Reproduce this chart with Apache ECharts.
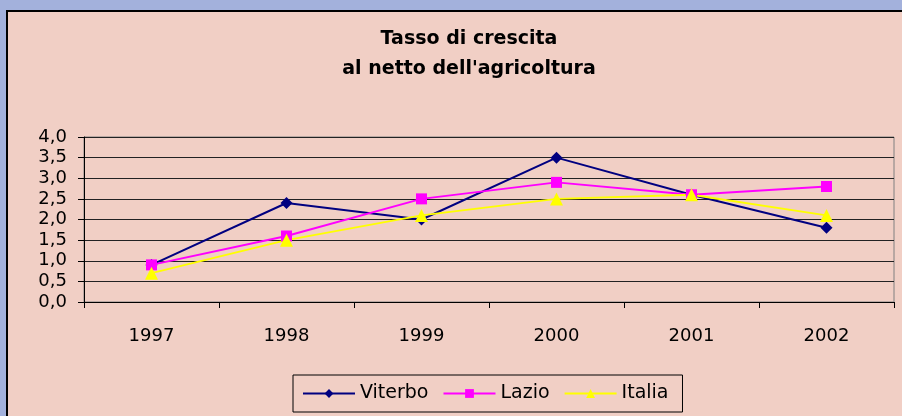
<!DOCTYPE html>
<html><head><meta charset="utf-8">
<script src="https://cdn.jsdelivr.net/npm/echarts@6/dist/echarts.min.js"></script>
<style>
html,body{margin:0;padding:0;width:902px;height:416px;overflow:hidden;background:#a3b1dc;}
#frame{position:absolute;left:6px;top:10px;width:1000px;height:500px;border:2px solid #000;background:#f1cfc5;box-sizing:border-box;}
#chart{position:absolute;left:0;top:0;width:902px;height:416px;}
</style></head>
<body>
<div id="frame"></div>
<div id="chart"></div>
<script>
const categories = ['1997','1998','1999','2000','2001','2002'];
const viterbo = [0.9, 2.4, 2.0, 3.5, 2.6, 1.8];
const lazio   = [0.9, 1.6, 2.5, 2.9, 2.6, 2.8];
const italia  = [0.7, 1.5, 2.1, 2.5, 2.6, 2.1];

const chart = echarts.init(document.getElementById('chart'), null, {renderer:'canvas'});
const font = '"DejaVu Sans", Verdana, sans-serif';
chart.setOption({
  animation:false,
  backgroundColor:'transparent',
  title:{
    text:'Tasso di crescita\nal netto dell\'agricoltura',
    left:464, top:19, textAlign:'center',
    textStyle:{fontFamily:font, fontSize:19, fontWeight:'bold', color:'#000', lineHeight:30}
  },
  legend:{
    left:293, top:375,
    orient:'horizontal',
    padding:[9,14,9,9],
    borderColor:'#000', borderWidth:1,
    itemWidth:52, itemHeight:11, itemGap:14,
    textStyle:{fontFamily:font, fontSize:19, color:'#000'},
    data:['Viterbo','Lazio','Italia']
  },
  grid:{left:84, top:137, width:810, height:165, show:true, borderColor:'#808080', borderWidth:1, backgroundColor:'transparent'},
  xAxis:{
    type:'category', data:categories, boundaryGap:true,
    axisLine:{lineStyle:{color:'#000', width:1}},
    axisTick:{show:true, length:6, inside:false, alignWithLabel:false, lineStyle:{color:'#000'}},
    axisLabel:{fontFamily:font, fontSize:18, color:'#000', margin:25},
    splitLine:{show:false}
  },
  yAxis:{
    type:'value', min:0, max:4, interval:0.5,
    axisLine:{show:true, lineStyle:{color:'#000', width:1}},
    axisTick:{show:true, length:6, lineStyle:{color:'#000'}},
    axisLabel:{fontFamily:font, fontSize:18, color:'#000', margin:17,
      formatter:v=>v.toFixed(1).replace('.',',')},
    splitLine:{show:true, lineStyle:{color:'#222', width:1}}
  },
  series:[
    {name:'Viterbo', type:'line', data:viterbo, symbol:'diamond', symbolSize:12,
      lineStyle:{color:'#000080', width:2}, itemStyle:{color:'#000080'}},
    {name:'Lazio', type:'line', data:lazio, symbol:'rect', symbolSize:11,
      lineStyle:{color:'#ff00ff', width:2}, itemStyle:{color:'#ff00ff'}},
    {name:'Italia', type:'line', data:italia, symbol:'triangle', symbolSize:13,
      lineStyle:{color:'#ffff00', width:2}, itemStyle:{color:'#ffff00'}}
  ]
});
</script>
</body></html>
